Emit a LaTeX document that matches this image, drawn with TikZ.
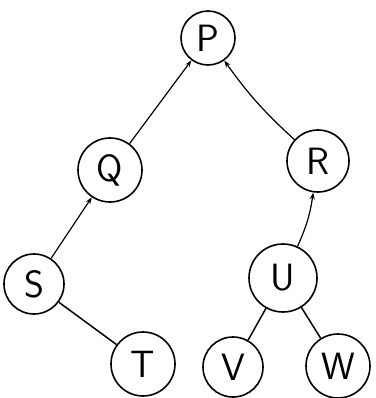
\documentclass[tikz,border=0pt]{standalone}
\usetikzlibrary{arrows.meta}
\begin{document}
\begin{tikzpicture}[x=1pt,y=-1pt,
  vtx/.style={draw,line width=1.6pt,circle,inner sep=0pt,font=\sffamily\fontsize{38}{38}\selectfont},
  up/.style={line width=1.2pt,-{Stealth[length=7pt,width=5pt]}},
  plain/.style={line width=1.5pt}]
\useasboundingbox (0,0) rectangle (375,398);
\node[vtx,minimum size=54pt] (P) at (208,38) {P};
\node[vtx,minimum size=64pt] (Q) at (110,170) {Q};
\node[vtx,minimum size=62pt] (R) at (318,161) {R};
\node[vtx,minimum size=60pt] (S) at (34,284) {S};
\node[vtx,minimum size=68pt] (U) at (283,278) {U};
\node[vtx,minimum size=64pt] (T) at (143,364) {T};
\node[vtx,minimum size=60pt] (V) at (233,367) {V};
\node[vtx,minimum size=64pt] (W) at (338,366) {W};
\draw[up] (Q) -- (P);
\draw[up] (R) to[bend left=6] (P);
\draw[up] (S) -- (Q);
\draw[up] (U) to[bend right=8] (R);
\draw[plain] (S) -- (T);
\draw[plain] (U) -- (V);
\draw[plain] (U) -- (W);
\end{tikzpicture}
\end{document}
